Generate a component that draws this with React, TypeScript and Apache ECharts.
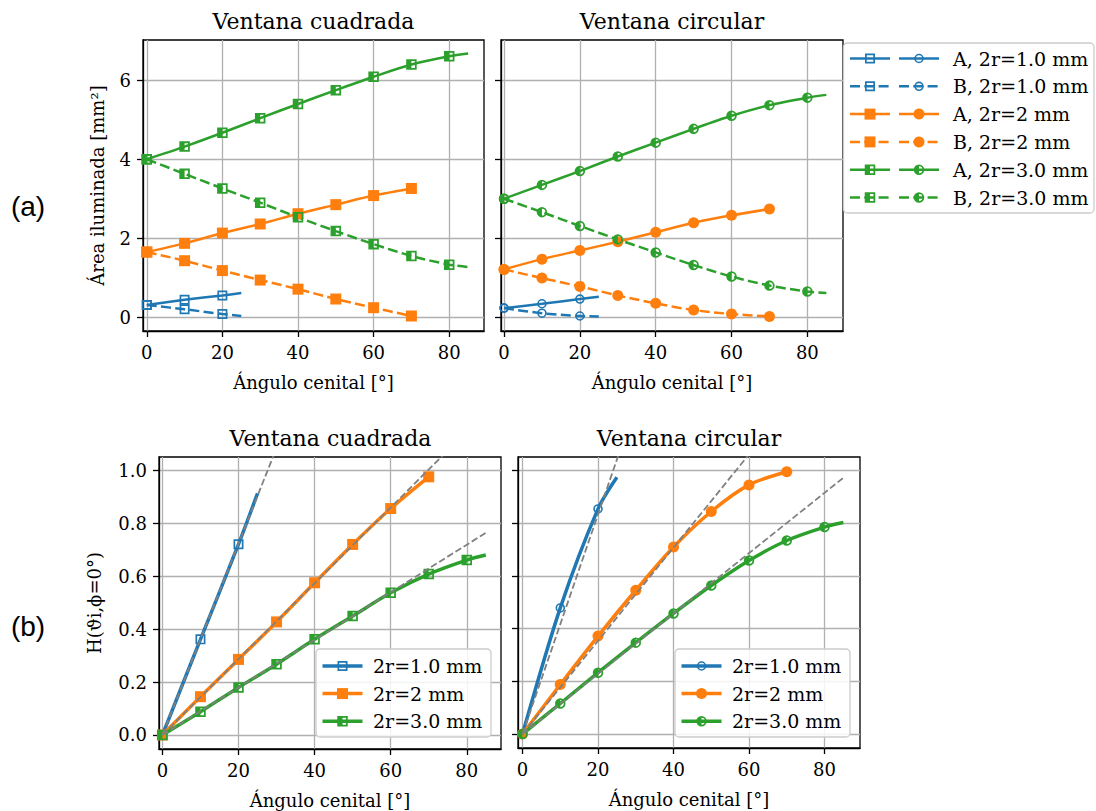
import React, { useEffect, useRef } from "react";
import * as echarts from "echarts";

// Zenith angles sampled in every panel
const angles = [0, 10, 20, 30, 40, 50, 60, 70, 80];

// Illuminated area [mm²], square window
const sqA10 = [0.31, 0.44, 0.55];
const sqB10 = [0.31, 0.2, 0.08];
const sqA20 = [1.65, 1.87, 2.13, 2.36, 2.62, 2.85, 3.08, 3.26];
const sqB20 = [1.65, 1.43, 1.18, 0.94, 0.71, 0.46, 0.24, 0.03];
const sqA30 = [4.0, 4.32, 4.67, 5.04, 5.4, 5.75, 6.09, 6.4, 6.61];
const sqB30 = [4.0, 3.63, 3.26, 2.9, 2.53, 2.18, 1.85, 1.55, 1.33];
// fitted-curve end points [angle, area]
const sqA10End = [25, 0.61];
const sqB10End = [25, 0.03];
const sqA30End = [85, 6.68];
const sqB30End = [85, 1.27];

// Illuminated area [mm²], circular window
const ciA10 = [0.23, 0.34, 0.46];
const ciB10 = [0.23, 0.1, 0.03];
const ciA20 = [1.21, 1.47, 1.69, 1.91, 2.15, 2.39, 2.58, 2.74];
const ciB20 = [1.21, 0.99, 0.78, 0.55, 0.35, 0.18, 0.08, 0.02];
const ciA30 = [3.0, 3.35, 3.7, 4.07, 4.42, 4.77, 5.1, 5.37, 5.56];
const ciB30 = [3.0, 2.66, 2.31, 1.97, 1.64, 1.32, 1.03, 0.8, 0.65];
const ciA10End = [25, 0.52];
const ciB10End = [25, 0.02];
const ciA30End = [85, 5.63];
const ciB30End = [85, 0.61];

// H(θi, φ=0°), square window
const hSq10 = [0, 0.362, 0.722];
const hSq20 = [0, 0.145, 0.286, 0.428, 0.576, 0.721, 0.857, 0.977];
const hSq30 = [0, 0.088, 0.18, 0.268, 0.362, 0.45, 0.538, 0.609, 0.662];
const hSq10End = [25, 0.914];
const hSq30End = [85, 0.681];
// H(θi, φ=0°), circular window
const hCi10 = [0, 0.479, 0.855];
const hCi20 = [0, 0.188, 0.372, 0.546, 0.71, 0.845, 0.946, 0.996];
const hCi30 = [0, 0.116, 0.233, 0.347, 0.458, 0.564, 0.659, 0.735, 0.786];
const hCi10End = [25, 0.975];
const hCi30End = [85, 0.803];

// slopes of the linear (small-angle) reference lines
const slopeSq = [0.0362, 0.01435, 0.009];
const slopeCi = [0.0417, 0.0177, 0.01145];
const refSpan = [0, 85];

const xTicks = [0, 20, 40, 60, 80];
const yTicksArea = [0, 2, 4, 6];
const yTicksH = [0, 0.2, 0.4, 0.6, 0.8, 1.0];

const diamLabels = ["2r=1.0 mm", "2r=2 mm", "2r=3.0 mm"];
const areaLabels = [
  "A, 2r=1.0 mm",
  "B, 2r=1.0 mm",
  "A, 2r=2 mm",
  "B, 2r=2 mm",
  "A, 2r=3.0 mm",
  "B, 2r=3.0 mm",
];

const BLUE = "#1f77b4";
const ORANGE = "#ff7f0e";
const GREEN = "#2ca02c";
const GREY = "#808080";
const FONT = "DejaVu Serif";

// marker outlines (10x10 units); holes are wound opposite to the outer contour
const P_RING_SQ = "M0 0H10V10H0ZM1.7 1.7V8.3H8.3V1.7Z";
const P_HALF_SQ = "M0 0H10V10H0ZM5 1.7V8.3H8.3V1.7Z";
const P_RING_CI = "M0 5A5 5 0 1 1 10 5A5 5 0 1 1 0 5ZM1.7 5A3.3 3.3 0 1 0 8.3 5A3.3 3.3 0 1 0 1.7 5Z";
const P_HALF_CI = "M0 5A5 5 0 1 1 10 5A5 5 0 1 1 0 5ZM5 8.3A3.3 3.3 0 0 0 5 1.7Z";

echarts.graphic.registerShape("ringSq", echarts.graphic.extendPath(P_RING_SQ, {}));
echarts.graphic.registerShape("halfSq", echarts.graphic.extendPath(P_HALF_SQ, {}));
echarts.graphic.registerShape("ringCi", echarts.graphic.extendPath(P_RING_CI, {}));
echarts.graphic.registerShape("halfCi", echarts.graphic.extendPath(P_HALF_CI, {}));

const SYM: Record<string, string> = {
  ringSq: "path://" + P_RING_SQ,
  halfSq: "path://" + P_HALF_SQ,
  ringCi: "path://" + P_RING_CI,
  halfCi: "path://" + P_HALF_CI,
  rect: "rect",
  circle: "circle",
};

const DASH_TOP = [10, 4.3];
const DASH_REF = [6.7, 2.9];

function curve(
  gi: number,
  name: string,
  ys: number[],
  tail: number[] | null,
  color: string,
  sym: string,
  size: number,
  width: number,
  dashed: boolean
) {
  const data: any[] = ys.map((y, i) => [angles[i], y]);
  if (tail) data.push({ value: tail, symbol: "none" });
  return {
    type: "line",
    name,
    xAxisIndex: gi,
    yAxisIndex: gi,
    data,
    smooth: 0.3,
    symbol: SYM[sym],
    symbolSize: size,
    showSymbol: true,
    lineStyle: { color, width, type: dashed ? DASH_TOP : "solid" },
    itemStyle: { color, borderWidth: 0 },
    emphasis: { disabled: true },
    silent: true,
  };
}

function refLine(gi: number, slope: number) {
  return {
    type: "line",
    xAxisIndex: gi,
    yAxisIndex: gi,
    data: refSpan.map((x) => [x, x * slope]),
    symbol: "none",
    clip: true,
    lineStyle: { color: GREY, width: 1.8, type: DASH_REF },
    z: 5,
    silent: true,
  };
}

const axisText = { fontFamily: FONT, fontSize: 18, color: "#000" };
const blackLine = { color: "#000", width: 1.3 };
const gridLine = { show: true, lineStyle: { color: "#b0b0b0", width: 1.3 } };

function xAxis(gi: number, min: number, max: number) {
  return {
    type: "value",
    gridIndex: gi,
    min,
    max,
    splitNumber: 5,
    name: "Ángulo cenital [°]",
    nameLocation: "middle",
    nameGap: 42,
    nameTextStyle: axisText,
    axisLine: { show: true, onZero: false, lineStyle: blackLine },
    axisTick: { show: true, length: 6, customValues: xTicks, lineStyle: blackLine },
    axisLabel: {
      ...axisText,
      margin: 12,
      customValues: xTicks,
      formatter: (v: number) => (xTicks.includes(v) ? String(v) : ""),
    },
    splitLine: gridLine,
  };
}

function yAxis(gi: number, min: number, max: number, ticks: number[], split: number, name: string, labels: boolean, digits: number, gap: number) {
  return {
    type: "value",
    gridIndex: gi,
    min,
    max,
    splitNumber: split,
    name: labels ? name : "",
    nameLocation: "middle",
    nameGap: gap,
    nameTextStyle: axisText,
    axisLine: { show: true, onZero: false, lineStyle: blackLine },
    axisTick: { show: true, length: 6, customValues: ticks, lineStyle: blackLine },
    axisLabel: {
      ...axisText,
      show: labels,
      margin: 12,
      customValues: ticks,
      formatter: (v: number) =>
        ticks.some((t) => Math.abs(t - v) < 1e-9) ? v.toFixed(digits) : "",
    },
    splitLine: gridLine,
  };
}

// one legend handle: a short line with the marker in its middle
function handle(x1: number, x2: number, cy: number, color: string, width: number, dashed: boolean, sym: string, size: number) {
  const cx = (x1 + x2) / 2;
  const els: any[] = [
    {
      type: "line",
      shape: { x1, y1: cy, x2, y2: cy },
      style: { stroke: color, lineWidth: width, lineDash: dashed ? DASH_TOP : null },
    },
  ];
  if (sym === "rect") {
    els.push({ type: "rect", shape: { x: cx - size / 2, y: cy - size / 2, width: size, height: size }, style: { fill: color } });
  } else if (sym === "circle") {
    els.push({ type: "circle", shape: { cx, cy, r: size / 2 }, style: { fill: color } });
  } else {
    els.push({
      type: sym,
      x: cx - size / 2,
      y: cy - size / 2,
      scaleX: size / 10,
      scaleY: size / 10,
      style: { fill: color },
    });
  }
  return els;
}

function legendBox(x: number, y: number, w: number, h: number) {
  return {
    type: "rect",
    shape: { x, y, width: w, height: h, r: 4 },
    style: { fill: "rgba(255,255,255,0.85)", stroke: "#cccccc", lineWidth: 1.3 },
  };
}

function text(x: number, y: number, s: string, size: number, align = "left", family = FONT, rotation = 0) {
  return {
    type: "text",
    x,
    y,
    rotation,
    style: { text: s, fontFamily: family, fontSize: size, fill: "#000", align, verticalAlign: "middle" },
  };
}

export default function App() {
  const ref = useRef<HTMLDivElement>(null);

  useEffect(() => {
    if (!ref.current) return;
    const chart = echarts.init(ref.current, undefined, { renderer: "svg" });

    const colors = [BLUE, ORANGE, GREEN];
    const sqSym = ["ringSq", "rect", "halfSq"];
    const ciSym = ["ringCi", "circle", "halfCi"];
    const sqSize = [10, 11, 10.5];
    const ciSize = [9.5, 11, 10.5];

    const series: any[] = [
      // square window, area
      curve(0, areaLabels[0], sqA10, sqA10End, BLUE, "ringSq", 10, 2.5, false),
      curve(0, areaLabels[1], sqB10, sqB10End, BLUE, "ringSq", 10, 2.5, true),
      curve(0, areaLabels[2], sqA20, null, ORANGE, "rect", 11, 2.5, false),
      curve(0, areaLabels[3], sqB20, null, ORANGE, "rect", 11, 2.5, true),
      curve(0, areaLabels[4], sqA30, sqA30End, GREEN, "halfSq", 10.5, 2.5, false),
      curve(0, areaLabels[5], sqB30, sqB30End, GREEN, "halfSq", 10.5, 2.5, true),
      // circular window, area
      curve(1, areaLabels[0], ciA10, ciA10End, BLUE, "ringCi", 9.5, 2.5, false),
      curve(1, areaLabels[1], ciB10, ciB10End, BLUE, "ringCi", 9.5, 2.5, true),
      curve(1, areaLabels[2], ciA20, null, ORANGE, "circle", 11, 2.5, false),
      curve(1, areaLabels[3], ciB20, null, ORANGE, "circle", 11, 2.5, true),
      curve(1, areaLabels[4], ciA30, ciA30End, GREEN, "halfCi", 10.5, 2.5, false),
      curve(1, areaLabels[5], ciB30, ciB30End, GREEN, "halfCi", 10.5, 2.5, true),
      // square window, H
      curve(2, diamLabels[0], hSq10, hSq10End, BLUE, "ringSq", 10, 3.5, false),
      curve(2, diamLabels[1], hSq20, null, ORANGE, "rect", 11, 3.5, false),
      curve(2, diamLabels[2], hSq30, hSq30End, GREEN, "halfSq", 10.5, 3.5, false),
      ...slopeSq.map((s) => refLine(2, s)),
      // circular window, H
      curve(3, diamLabels[0], hCi10, hCi10End, BLUE, "ringCi", 9.5, 3.5, false),
      curve(3, diamLabels[1], hCi20, null, ORANGE, "circle", 11, 3.5, false),
      curve(3, diamLabels[2], hCi30, hCi30End, GREEN, "halfCi", 10.5, 3.5, false),
      ...slopeCi.map((s) => refLine(3, s)),
    ];

    const graphics: any[] = [
      text(313.5, 21, "Ventana cuadrada", 22, "center"),
      text(672, 21, "Ventana circular", 22, "center"),
      text(330.5, 438, "Ventana cuadrada", 22, "center"),
      text(689, 438, "Ventana circular", 22, "center"),
      text(28, 206, "(a)", 28, "center", "Liberation Sans"),
      text(28, 626, "(b)", 28, "center", "Liberation Sans"),
    ];

    // legend of the area panels: square and circle handle per entry
    graphics.push(legendBox(843.5, 43, 250.5, 170));
    areaLabels.forEach((lab, i) => {
      const k = Math.floor(i / 2);
      const dashed = i % 2 === 1;
      const cy = 58.5 + i * 27.8;
      graphics.push(...handle(850, 890, cy, colors[k], 2.5, dashed, sqSym[k], sqSize[k]));
      graphics.push(...handle(899, 939, cy, colors[k], 2.5, dashed, ciSym[k], ciSize[k]));
      graphics.push(text(953, cy, lab, 19));
    });

    // legends of the H panels
    const hLegends = [
      { x: 316, syms: sqSym, sizes: sqSize },
      { x: 675, syms: ciSym, sizes: ciSize },
    ];
    hLegends.forEach((lg) => {
      graphics.push(legendBox(lg.x, 649, 175, 88));
      diamLabels.forEach((lab, k) => {
        const cy = 666 + k * 27.6;
        graphics.push(...handle(lg.x + 6.5, lg.x + 46.5, cy, colors[k], 3.5, false, lg.syms[k], lg.sizes[k]));
        graphics.push(text(lg.x + 57, cy, lab, 19));
      });
    });

    const gridBase = { show: true, borderColor: "#000", borderWidth: 1.3, backgroundColor: "transparent", outerBoundsMode: "none" };

    chart.setOption({
      animation: false,
      backgroundColor: "#ffffff",
      grid: [
        { ...gridBase, left: 143, top: 40, width: 341, height: 291 },
        { ...gridBase, left: 501, top: 40, width: 342, height: 291 },
        { ...gridBase, left: 159, top: 457, width: 342, height: 292 },
        { ...gridBase, left: 518, top: 457, width: 342, height: 291 },
      ],
      xAxis: [xAxis(0, -1, 89.2), xAxis(1, -0.8, 89.4), xAxis(2, -0.9, 89), xAxis(3, -1.2, 89.4)],
      yAxis: [
        yAxis(0, -0.35, 7.02, yTicksArea, 4, "Área iluminada [mm²]", true, 0, 37),
        yAxis(1, -0.35, 7.02, yTicksArea, 4, "", false, 0, 37),
        yAxis(2, -0.053, 1.052, yTicksH, 5, "H(ϑi,ϕ=0°)", true, 1, 56),
        yAxis(3, -0.053, 1.052, yTicksH, 5, "", false, 1, 56),
      ],
      series,
      graphic: { elements: graphics.map((g) => ({ ...g, z: 100 })) },
    });

    return () => chart.dispose();
  }, []);

  return (
    <div
      ref={ref}
      style={{ position: "fixed", left: 0, top: 0, width: 1096, height: 811, background: "#fff" }}
    />
  );
}
